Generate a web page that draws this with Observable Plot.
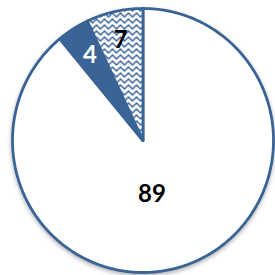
<!DOCTYPE html>
<html><head><meta charset="utf-8">
<script src="https://cdn.jsdelivr.net/npm/d3@7"></script>
<script src="https://cdn.jsdelivr.net/npm/@observablehq/plot@0.6"></script>
<style>body{margin:0;background:#fff}</style>
</head><body><div id="chart"></div>
<script>
const categories = ["A", "B", "C"];
const values = [89, 4, 7];

const blue = "#3A6396";
const fills = {A: "#ffffff", B: blue, C: "url(#weave)"};
const labelColors = {A: "#000", B: "#fff", C: "#000"};
const labelRadius = {A: 0.43, B: 0.76, C: 0.78};
const labelDx = {A: -10, B: 0, C: 0};

const data = categories.map((c, i) => ({cat: c, value: values[i]}));
const arcs = d3.pie().sort(null).value(d => d.value)(data);

const pts = [];
for (const a of arcs) {
  pts.push({cat: a.data.cat, x: 0, y: 0});
  const n = Math.max(4, Math.ceil((a.endAngle - a.startAngle) / 0.01));
  for (let k = 0; k <= n; k++) {
    const t = a.startAngle + (a.endAngle - a.startAngle) * k / n;
    pts.push({cat: a.data.cat, x: Math.sin(t), y: Math.cos(t)});
  }
  pts.push({cat: a.data.cat, x: 0, y: 0});
}
const labels = arcs.map(a => {
  const m = (a.startAngle + a.endAngle) / 2, r = labelRadius[a.data.cat];
  return {cat: a.data.cat, value: a.data.value, x: r * Math.sin(m), y: r * Math.cos(m)};
});

const chart = Plot.plot({
  width: 275, height: 275,
  marginLeft: 12, marginRight: 2, marginTop: 8, marginBottom: 3,
  x: {domain: [-1, 1], axis: null},
  y: {domain: [-1, 1], axis: null},
  color: {type: "identity"},
  marks: [
    Plot.line(pts, {x: "x", y: "y", z: "cat", fill: d => fills[d.cat], stroke: blue, strokeWidth: 2.8, strokeLinejoin: "round"}),
    Plot.text(labels, {x: "x", y: "y", text: d => String(d.value), fill: d => labelColors[d.cat],
      fontSize: 24, fontWeight: "bold", fontFamily: "Lato, 'Open Sans', sans-serif"})
  ]
});
const svg = d3.select(chart);
svg.selectAll("text").each(function(d, i) {
  const lb = labels[i];
  if (lb && labelDx[lb.cat]) d3.select(this).attr("dx", labelDx[lb.cat]);
});
svg.select("g[aria-label='line']").style("filter", "drop-shadow(0px 2px 2px rgba(0,0,0,0.3))");
const defs = svg.insert("defs", ":first-child");
const pat = defs.append("pattern").attr("id", "weave").attr("patternUnits", "userSpaceOnUse")
  .attr("width", 8).attr("height", 6);
pat.append("rect").attr("width", 8).attr("height", 6).attr("fill", "#fff");
const bitmap = ["X......X", "XX....XX", ".XX..XX.", "..XXXX..", "...XX...", "........"];
bitmap.forEach((row, r) => [...row].forEach((ch, c) => {
  if (ch === "X") pat.append("rect").attr("x", c).attr("y", r).attr("width", 1).attr("height", 1)
    .attr("fill", blue).attr("shape-rendering", "crispEdges");
}));
document.getElementById("chart").appendChild(chart);
</script></body></html>
